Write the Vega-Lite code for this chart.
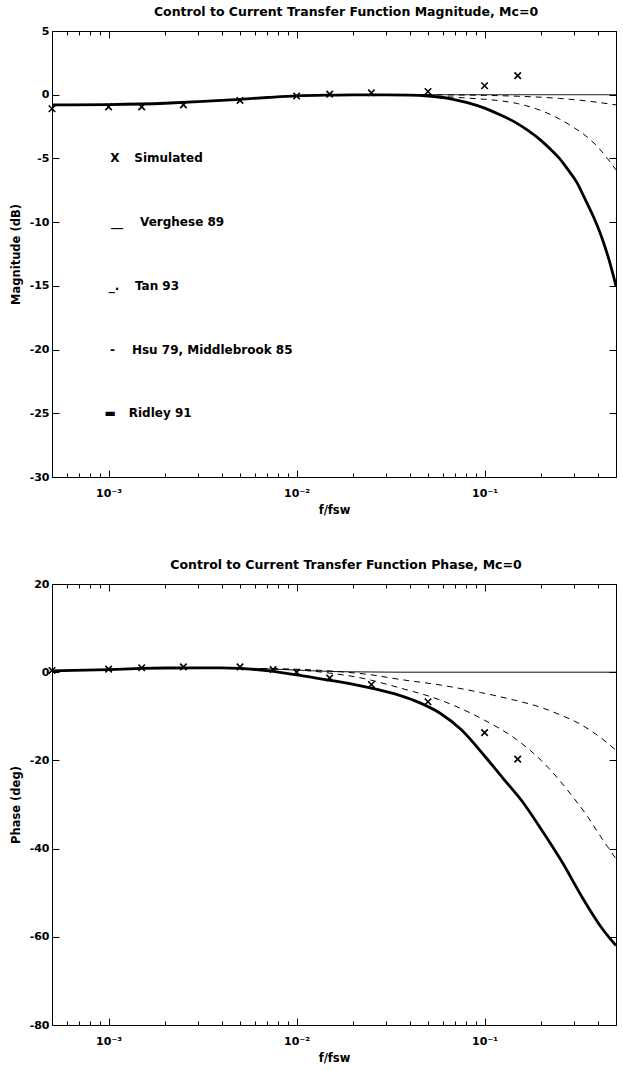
{
  "$schema": "https://vega.github.io/schema/vega-lite/v6.json",
  "background": "white",
  "padding": {"left": 9, "top": 5, "right": 4, "bottom": 0},
  "spacing": 42,
  "config": {
    "view": {"stroke": "black", "strokeWidth": 1},
    "font": "DejaVu Sans",
    "title": {"font": "DejaVu Sans", "fontSize": 12.5, "fontWeight": "bold", "color": "black", "offset": 7, "dx": 12},
    "axis": {"grid": false, "domain": false, "tickColor": "black", "labelFont": "DejaVu Sans", "labelFontSize": 11, "labelFontWeight": "bold", "labelColor": "black", "titleFont": "DejaVu Sans", "titleFontSize": 11.5, "titleFontWeight": "bold", "titleColor": "black"}
  },
  "datasets": {
    "mag": [
      {"model": "Verghese 89", "f": 0.0005, "v": -0.8}, {"model": "Verghese 89", "f": 0.001, "v": -0.77}, {"model": "Verghese 89", "f": 0.002, "v": -0.67}, {"model": "Verghese 89", "f": 0.003, "v": -0.55}, {"model": "Verghese 89", "f": 0.005, "v": -0.36}, {"model": "Verghese 89", "f": 0.007, "v": -0.22}, {"model": "Verghese 89", "f": 0.01, "v": -0.09}, {"model": "Verghese 89", "f": 0.015, "v": -0.03}, {"model": "Verghese 89", "f": 0.02, "v": -0.01}, {"model": "Verghese 89", "f": 0.03, "v": 0}, {"model": "Verghese 89", "f": 0.05, "v": 0}, {"model": "Verghese 89", "f": 0.1, "v": 0}, {"model": "Verghese 89", "f": 0.2, "v": 0}, {"model": "Verghese 89", "f": 0.5, "v": 0},
      {"model": "Hsu 79, Middlebrook 85", "f": 0.0005, "v": -0.8}, {"model": "Hsu 79, Middlebrook 85", "f": 0.001, "v": -0.77}, {"model": "Hsu 79, Middlebrook 85", "f": 0.002, "v": -0.67}, {"model": "Hsu 79, Middlebrook 85", "f": 0.003, "v": -0.55}, {"model": "Hsu 79, Middlebrook 85", "f": 0.005, "v": -0.36}, {"model": "Hsu 79, Middlebrook 85", "f": 0.007, "v": -0.22}, {"model": "Hsu 79, Middlebrook 85", "f": 0.01, "v": -0.09}, {"model": "Hsu 79, Middlebrook 85", "f": 0.015, "v": -0.03}, {"model": "Hsu 79, Middlebrook 85", "f": 0.02, "v": -0.01}, {"model": "Hsu 79, Middlebrook 85", "f": 0.03, "v": 0}, {"model": "Hsu 79, Middlebrook 85", "f": 0.04, "v": 0}, {"model": "Hsu 79, Middlebrook 85", "f": 0.06, "v": -0.01}, {"model": "Hsu 79, Middlebrook 85", "f": 0.08, "v": -0.03}, {"model": "Hsu 79, Middlebrook 85", "f": 0.1, "v": -0.05}, {"model": "Hsu 79, Middlebrook 85", "f": 0.15, "v": -0.12}, {"model": "Hsu 79, Middlebrook 85", "f": 0.2, "v": -0.2}, {"model": "Hsu 79, Middlebrook 85", "f": 0.25, "v": -0.29}, {"model": "Hsu 79, Middlebrook 85", "f": 0.3, "v": -0.39}, {"model": "Hsu 79, Middlebrook 85", "f": 0.35, "v": -0.49}, {"model": "Hsu 79, Middlebrook 85", "f": 0.4, "v": -0.6}, {"model": "Hsu 79, Middlebrook 85", "f": 0.45, "v": -0.7}, {"model": "Hsu 79, Middlebrook 85", "f": 0.5, "v": -0.8},
      {"model": "Tan 93", "f": 0.0005, "v": -0.8}, {"model": "Tan 93", "f": 0.001, "v": -0.77}, {"model": "Tan 93", "f": 0.002, "v": -0.67}, {"model": "Tan 93", "f": 0.003, "v": -0.55}, {"model": "Tan 93", "f": 0.005, "v": -0.36}, {"model": "Tan 93", "f": 0.007, "v": -0.22}, {"model": "Tan 93", "f": 0.01, "v": -0.09}, {"model": "Tan 93", "f": 0.015, "v": -0.03}, {"model": "Tan 93", "f": 0.02, "v": -0.01}, {"model": "Tan 93", "f": 0.03, "v": -0.01}, {"model": "Tan 93", "f": 0.04, "v": -0.05}, {"model": "Tan 93", "f": 0.05, "v": -0.1}, {"model": "Tan 93", "f": 0.065, "v": -0.17}, {"model": "Tan 93", "f": 0.08, "v": -0.26}, {"model": "Tan 93", "f": 0.1, "v": -0.36}, {"model": "Tan 93", "f": 0.125, "v": -0.5}, {"model": "Tan 93", "f": 0.15, "v": -0.7}, {"model": "Tan 93", "f": 0.2, "v": -1.25}, {"model": "Tan 93", "f": 0.25, "v": -1.9}, {"model": "Tan 93", "f": 0.3, "v": -2.6}, {"model": "Tan 93", "f": 0.35, "v": -3.3}, {"model": "Tan 93", "f": 0.4, "v": -4.1}, {"model": "Tan 93", "f": 0.45, "v": -5.0}, {"model": "Tan 93", "f": 0.5, "v": -5.9},
      {"model": "Ridley 91", "f": 0.0005, "v": -0.8}, {"model": "Ridley 91", "f": 0.001, "v": -0.77}, {"model": "Ridley 91", "f": 0.002, "v": -0.67}, {"model": "Ridley 91", "f": 0.003, "v": -0.55}, {"model": "Ridley 91", "f": 0.005, "v": -0.36}, {"model": "Ridley 91", "f": 0.007, "v": -0.22}, {"model": "Ridley 91", "f": 0.01, "v": -0.09}, {"model": "Ridley 91", "f": 0.015, "v": -0.03}, {"model": "Ridley 91", "f": 0.02, "v": -0.01}, {"model": "Ridley 91", "f": 0.03, "v": -0.01}, {"model": "Ridley 91", "f": 0.04, "v": -0.03}, {"model": "Ridley 91", "f": 0.05, "v": -0.1}, {"model": "Ridley 91", "f": 0.065, "v": -0.3}, {"model": "Ridley 91", "f": 0.08, "v": -0.6}, {"model": "Ridley 91", "f": 0.1, "v": -1.05}, {"model": "Ridley 91", "f": 0.12, "v": -1.55}, {"model": "Ridley 91", "f": 0.145, "v": -2.15}, {"model": "Ridley 91", "f": 0.17, "v": -2.8}, {"model": "Ridley 91", "f": 0.2, "v": -3.6}, {"model": "Ridley 91", "f": 0.225, "v": -4.3}, {"model": "Ridley 91", "f": 0.25, "v": -5.0}, {"model": "Ridley 91", "f": 0.275, "v": -5.8}, {"model": "Ridley 91", "f": 0.31, "v": -6.9}, {"model": "Ridley 91", "f": 0.34, "v": -8.1}, {"model": "Ridley 91", "f": 0.38, "v": -9.6}, {"model": "Ridley 91", "f": 0.42, "v": -11.2}, {"model": "Ridley 91", "f": 0.46, "v": -13.0}, {"model": "Ridley 91", "f": 0.5, "v": -15.0}
    ],
    "phase": [
      {"model": "Verghese 89", "f": 0.0005, "v": 0.3}, {"model": "Verghese 89", "f": 0.001, "v": 0.6}, {"model": "Verghese 89", "f": 0.0015, "v": 0.85}, {"model": "Verghese 89", "f": 0.002, "v": 0.95}, {"model": "Verghese 89", "f": 0.003, "v": 1.0}, {"model": "Verghese 89", "f": 0.004, "v": 1.0}, {"model": "Verghese 89", "f": 0.005, "v": 0.9}, {"model": "Verghese 89", "f": 0.0075, "v": 0.7}, {"model": "Verghese 89", "f": 0.011, "v": 0.4}, {"model": "Verghese 89", "f": 0.016, "v": 0.15}, {"model": "Verghese 89", "f": 0.025, "v": 0.05}, {"model": "Verghese 89", "f": 0.04, "v": 0}, {"model": "Verghese 89", "f": 0.5, "v": 0},
      {"model": "Hsu 79, Middlebrook 85", "f": 0.0005, "v": 0.3}, {"model": "Hsu 79, Middlebrook 85", "f": 0.001, "v": 0.6}, {"model": "Hsu 79, Middlebrook 85", "f": 0.0015, "v": 0.85}, {"model": "Hsu 79, Middlebrook 85", "f": 0.002, "v": 0.95}, {"model": "Hsu 79, Middlebrook 85", "f": 0.003, "v": 1.0}, {"model": "Hsu 79, Middlebrook 85", "f": 0.004, "v": 1.0}, {"model": "Hsu 79, Middlebrook 85", "f": 0.005, "v": 0.9}, {"model": "Hsu 79, Middlebrook 85", "f": 0.0075, "v": 0.8}, {"model": "Hsu 79, Middlebrook 85", "f": 0.011, "v": 0.6}, {"model": "Hsu 79, Middlebrook 85", "f": 0.016, "v": 0.2}, {"model": "Hsu 79, Middlebrook 85", "f": 0.025, "v": -0.6}, {"model": "Hsu 79, Middlebrook 85", "f": 0.035, "v": -1.6}, {"model": "Hsu 79, Middlebrook 85", "f": 0.06, "v": -3.0}, {"model": "Hsu 79, Middlebrook 85", "f": 0.095, "v": -4.6}, {"model": "Hsu 79, Middlebrook 85", "f": 0.14, "v": -6.2}, {"model": "Hsu 79, Middlebrook 85", "f": 0.2, "v": -8.0}, {"model": "Hsu 79, Middlebrook 85", "f": 0.25, "v": -9.6}, {"model": "Hsu 79, Middlebrook 85", "f": 0.32, "v": -11.7}, {"model": "Hsu 79, Middlebrook 85", "f": 0.41, "v": -14.7}, {"model": "Hsu 79, Middlebrook 85", "f": 0.5, "v": -17.7},
      {"model": "Tan 93", "f": 0.0005, "v": 0.3}, {"model": "Tan 93", "f": 0.001, "v": 0.6}, {"model": "Tan 93", "f": 0.0015, "v": 0.85}, {"model": "Tan 93", "f": 0.002, "v": 0.95}, {"model": "Tan 93", "f": 0.003, "v": 1.0}, {"model": "Tan 93", "f": 0.004, "v": 1.0}, {"model": "Tan 93", "f": 0.005, "v": 0.9}, {"model": "Tan 93", "f": 0.0075, "v": 0.75}, {"model": "Tan 93", "f": 0.011, "v": 0.4}, {"model": "Tan 93", "f": 0.015, "v": -0.2}, {"model": "Tan 93", "f": 0.022, "v": -1.3}, {"model": "Tan 93", "f": 0.035, "v": -3.5}, {"model": "Tan 93", "f": 0.058, "v": -6.3}, {"model": "Tan 93", "f": 0.095, "v": -10.4}, {"model": "Tan 93", "f": 0.147, "v": -15.2}, {"model": "Tan 93", "f": 0.2, "v": -20}, {"model": "Tan 93", "f": 0.25, "v": -24.5}, {"model": "Tan 93", "f": 0.3, "v": -28.7}, {"model": "Tan 93", "f": 0.35, "v": -32.5}, {"model": "Tan 93", "f": 0.4, "v": -36.3}, {"model": "Tan 93", "f": 0.45, "v": -39.5}, {"model": "Tan 93", "f": 0.5, "v": -42.3},
      {"model": "Ridley 91", "f": 0.0005, "v": 0.3}, {"model": "Ridley 91", "f": 0.001, "v": 0.6}, {"model": "Ridley 91", "f": 0.0015, "v": 0.85}, {"model": "Ridley 91", "f": 0.002, "v": 0.95}, {"model": "Ridley 91", "f": 0.003, "v": 1.0}, {"model": "Ridley 91", "f": 0.004, "v": 1.0}, {"model": "Ridley 91", "f": 0.005, "v": 0.85}, {"model": "Ridley 91", "f": 0.006, "v": 0.6}, {"model": "Ridley 91", "f": 0.0075, "v": 0.2}, {"model": "Ridley 91", "f": 0.009, "v": -0.3}, {"model": "Ridley 91", "f": 0.011, "v": -0.9}, {"model": "Ridley 91", "f": 0.017, "v": -2.2}, {"model": "Ridley 91", "f": 0.025, "v": -3.6}, {"model": "Ridley 91", "f": 0.035, "v": -5.2}, {"model": "Ridley 91", "f": 0.045, "v": -6.9}, {"model": "Ridley 91", "f": 0.058, "v": -9.3}, {"model": "Ridley 91", "f": 0.075, "v": -13.0}, {"model": "Ridley 91", "f": 0.1, "v": -19.0}, {"model": "Ridley 91", "f": 0.125, "v": -24.0}, {"model": "Ridley 91", "f": 0.158, "v": -29.2}, {"model": "Ridley 91", "f": 0.2, "v": -35.6}, {"model": "Ridley 91", "f": 0.258, "v": -43}, {"model": "Ridley 91", "f": 0.33, "v": -51.0}, {"model": "Ridley 91", "f": 0.42, "v": -58}, {"model": "Ridley 91", "f": 0.5, "v": -62}
    ],
    "simmag": [
      {"f": 0.0005, "v": -1.1}, {"f": 0.001, "v": -0.95}, {"f": 0.0015, "v": -0.95}, {"f": 0.0025, "v": -0.8}, {"f": 0.005, "v": -0.45}, {"f": 0.01, "v": -0.1}, {"f": 0.015, "v": 0.05}, {"f": 0.025, "v": 0.15}, {"f": 0.05, "v": 0.25}, {"f": 0.1, "v": 0.7}, {"f": 0.15, "v": 1.5}
    ],
    "simphase": [
      {"f": 0.0005, "v": 0.4}, {"f": 0.001, "v": 0.7}, {"f": 0.0015, "v": 1.0}, {"f": 0.0025, "v": 1.2}, {"f": 0.005, "v": 1.2}, {"f": 0.0075, "v": 0.6}, {"f": 0.01, "v": 0}, {"f": 0.015, "v": -1.3}, {"f": 0.025, "v": -2.8}, {"f": 0.05, "v": -6.7}, {"f": 0.1, "v": -13.7}, {"f": 0.15, "v": -19.7}
    ],
    "legend": [
      {"marker": "X", "label": "Simulated", "fm": 0.00108, "fl": 0.00137, "v": -5},
      {"marker": "__", "label": "Verghese 89", "fm": 0.00111, "fl": 0.00147, "v": -10},
      {"marker": "_.", "label": "Tan 93", "fm": 0.00107, "fl": 0.00138, "v": -15},
      {"marker": "-", "label": "Hsu 79, Middlebrook 85", "fm": 0.00105, "fl": 0.00133, "v": -20},
      {"marker": "▬", "label": "Ridley 91", "fm": 0.00102, "fl": 0.00128, "v": -25}
    ]
  },
  "vconcat": [
    {
      "width": 564,
      "height": 446,
      "title": "Control to Current Transfer Function Magnitude, Mc=0",
      "layer": [
        {
          "data": {"name": "mag"},
          "transform": [{"filter": "datum.model != 'Ridley 91'"}],
          "mark": {"type": "line", "color": "black", "clip": true, "strokeWidth": 1, "interpolate": "monotone"},
          "encoding": {
            "x": {"field": "f", "type": "quantitative", "title": "f/fsw",
              "scale": {"type": "log", "domain": [0.0005, 0.5], "nice": false},
              "axis": {"orient": "bottom", "values": [0.0005, 0.0006, 0.0007, 0.0008, 0.0009, 0.001, 0.002, 0.003, 0.004, 0.005, 0.006, 0.007, 0.008, 0.009, 0.01, 0.02, 0.03, 0.04, 0.05, 0.06, 0.07, 0.08, 0.09, 0.1, 0.2, 0.3, 0.4, 0.5],
                "labelExpr": "datum.value == 0.001 ? '10⁻³' : datum.value == 0.01 ? '10⁻²' : datum.value == 0.1 ? '10⁻¹' : ''",
                "tickSize": {"condition": {"test": "datum.value == 0.001 || datum.value == 0.01 || datum.value == 0.1", "value": -7}, "value": -4},
                "labelPadding": 17, "labelFlush": false, "labelOverlap": false, "titlePadding": 3}},
            "y": {"field": "v", "type": "quantitative", "title": "Magnitude (dB)",
              "scale": {"domain": [-30, 5], "nice": false, "zero": false},
              "axis": {"orient": "left", "values": [-30, -25, -20, -15, -10, -5, 0, 5], "labelExpr": "'' + datum.value", "tickSize": -7, "labelPadding": 10, "titlePadding": 8}},
            "detail": {"field": "model"},
            "strokeDash": {"field": "model", "type": "nominal", "legend": null,
              "scale": {"domain": ["Verghese 89", "Tan 93", "Hsu 79, Middlebrook 85"], "range": [[1, 0], [6, 5], [6, 5]]}}
          }
        },
        {
          "data": {"name": "mag"},
          "transform": [{"filter": "datum.model == 'Ridley 91'"}],
          "mark": {"type": "line", "color": "black", "clip": true, "strokeWidth": 2.8, "interpolate": "monotone"},
          "encoding": {
            "x": {"field": "f", "type": "quantitative", "axis": null},
            "y": {"field": "v", "type": "quantitative", "axis": null}
          }
        },
        {
          "data": {"name": "simmag"},
          "mark": {"type": "point", "shape": "M-1,-1L1,1M1,-1L-1,1", "filled": false, "color": "black", "strokeWidth": 1.6, "size": 42, "opacity": 1},
          "encoding": {
            "x": {"field": "f", "type": "quantitative",
              "axis": {"orient": "top", "values": [0.0005, 0.0006, 0.0007, 0.0008, 0.0009, 0.001, 0.002, 0.003, 0.004, 0.005, 0.006, 0.007, 0.008, 0.009, 0.01, 0.02, 0.03, 0.04, 0.05, 0.06, 0.07, 0.08, 0.09, 0.1, 0.2, 0.3, 0.4, 0.5], "labels": false, "title": null,
                "tickSize": {"condition": {"test": "datum.value == 0.001 || datum.value == 0.01 || datum.value == 0.1", "value": -7}, "value": -4}}},
            "y": {"field": "v", "type": "quantitative",
              "axis": {"orient": "right", "values": [-30, -25, -20, -15, -10, -5, 0, 5], "labels": false, "title": null, "tickSize": -7}}
          }
        },
        {
          "data": {"name": "legend"},
          "mark": {"type": "text", "align": "center", "baseline": "middle", "font": "DejaVu Sans", "fontSize": 12, "fontWeight": "bold", "color": "black"},
          "encoding": {
            "x": {"field": "fm", "type": "quantitative", "axis": null},
            "y": {"field": "v", "type": "quantitative", "axis": null},
            "text": {"field": "marker"}
          }
        },
        {
          "data": {"name": "legend"},
          "mark": {"type": "text", "align": "left", "baseline": "middle", "font": "DejaVu Sans", "fontSize": 12, "fontWeight": "bold", "color": "black"},
          "encoding": {
            "x": {"field": "fl", "type": "quantitative", "axis": null},
            "y": {"field": "v", "type": "quantitative", "axis": null},
            "text": {"field": "label"}
          }
        }
      ],
      "resolve": {"axis": {"x": "independent", "y": "independent"}}
    },
    {
      "width": 564,
      "height": 441,
      "title": "Control to Current Transfer Function Phase, Mc=0",
      "layer": [
        {
          "data": {"name": "phase"},
          "transform": [{"filter": "datum.model != 'Ridley 91'"}],
          "mark": {"type": "line", "color": "black", "clip": true, "strokeWidth": 1, "interpolate": "monotone"},
          "encoding": {
            "x": {"field": "f", "type": "quantitative", "title": "f/fsw",
              "scale": {"type": "log", "domain": [0.0005, 0.5], "nice": false},
              "axis": {"orient": "bottom", "values": [0.0005, 0.0006, 0.0007, 0.0008, 0.0009, 0.001, 0.002, 0.003, 0.004, 0.005, 0.006, 0.007, 0.008, 0.009, 0.01, 0.02, 0.03, 0.04, 0.05, 0.06, 0.07, 0.08, 0.09, 0.1, 0.2, 0.3, 0.4, 0.5],
                "labelExpr": "datum.value == 0.001 ? '10⁻³' : datum.value == 0.01 ? '10⁻²' : datum.value == 0.1 ? '10⁻¹' : ''",
                "tickSize": {"condition": {"test": "datum.value == 0.001 || datum.value == 0.01 || datum.value == 0.1", "value": -7}, "value": -4},
                "labelPadding": 17, "labelFlush": false, "labelOverlap": false, "titlePadding": 3}},
            "y": {"field": "v", "type": "quantitative", "title": "Phase (deg)",
              "scale": {"domain": [-80, 20], "nice": false, "zero": false},
              "axis": {"orient": "left", "values": [-80, -60, -40, -20, 0, 20], "labelExpr": "'' + datum.value", "tickSize": -7, "labelPadding": 10, "titlePadding": 8}},
            "detail": {"field": "model"},
            "strokeDash": {"field": "model", "type": "nominal", "legend": null,
              "scale": {"domain": ["Verghese 89", "Tan 93", "Hsu 79, Middlebrook 85"], "range": [[1, 0], [6, 5], [6, 5]]}}
          }
        },
        {
          "data": {"name": "phase"},
          "transform": [{"filter": "datum.model == 'Ridley 91'"}],
          "mark": {"type": "line", "color": "black", "clip": true, "strokeWidth": 2.8, "interpolate": "monotone"},
          "encoding": {
            "x": {"field": "f", "type": "quantitative", "axis": null},
            "y": {"field": "v", "type": "quantitative", "axis": null}
          }
        },
        {
          "data": {"name": "simphase"},
          "mark": {"type": "point", "shape": "M-1,-1L1,1M1,-1L-1,1", "filled": false, "color": "black", "strokeWidth": 1.6, "size": 42, "opacity": 1},
          "encoding": {
            "x": {"field": "f", "type": "quantitative",
              "axis": {"orient": "top", "values": [0.0005, 0.0006, 0.0007, 0.0008, 0.0009, 0.001, 0.002, 0.003, 0.004, 0.005, 0.006, 0.007, 0.008, 0.009, 0.01, 0.02, 0.03, 0.04, 0.05, 0.06, 0.07, 0.08, 0.09, 0.1, 0.2, 0.3, 0.4, 0.5], "labels": false, "title": null,
                "tickSize": {"condition": {"test": "datum.value == 0.001 || datum.value == 0.01 || datum.value == 0.1", "value": -7}, "value": -4}}},
            "y": {"field": "v", "type": "quantitative",
              "axis": {"orient": "right", "values": [-80, -60, -40, -20, 0, 20], "labels": false, "title": null, "tickSize": -7}}
          }
        }
      ],
      "resolve": {"axis": {"x": "independent", "y": "independent"}}
    }
  ]
}
